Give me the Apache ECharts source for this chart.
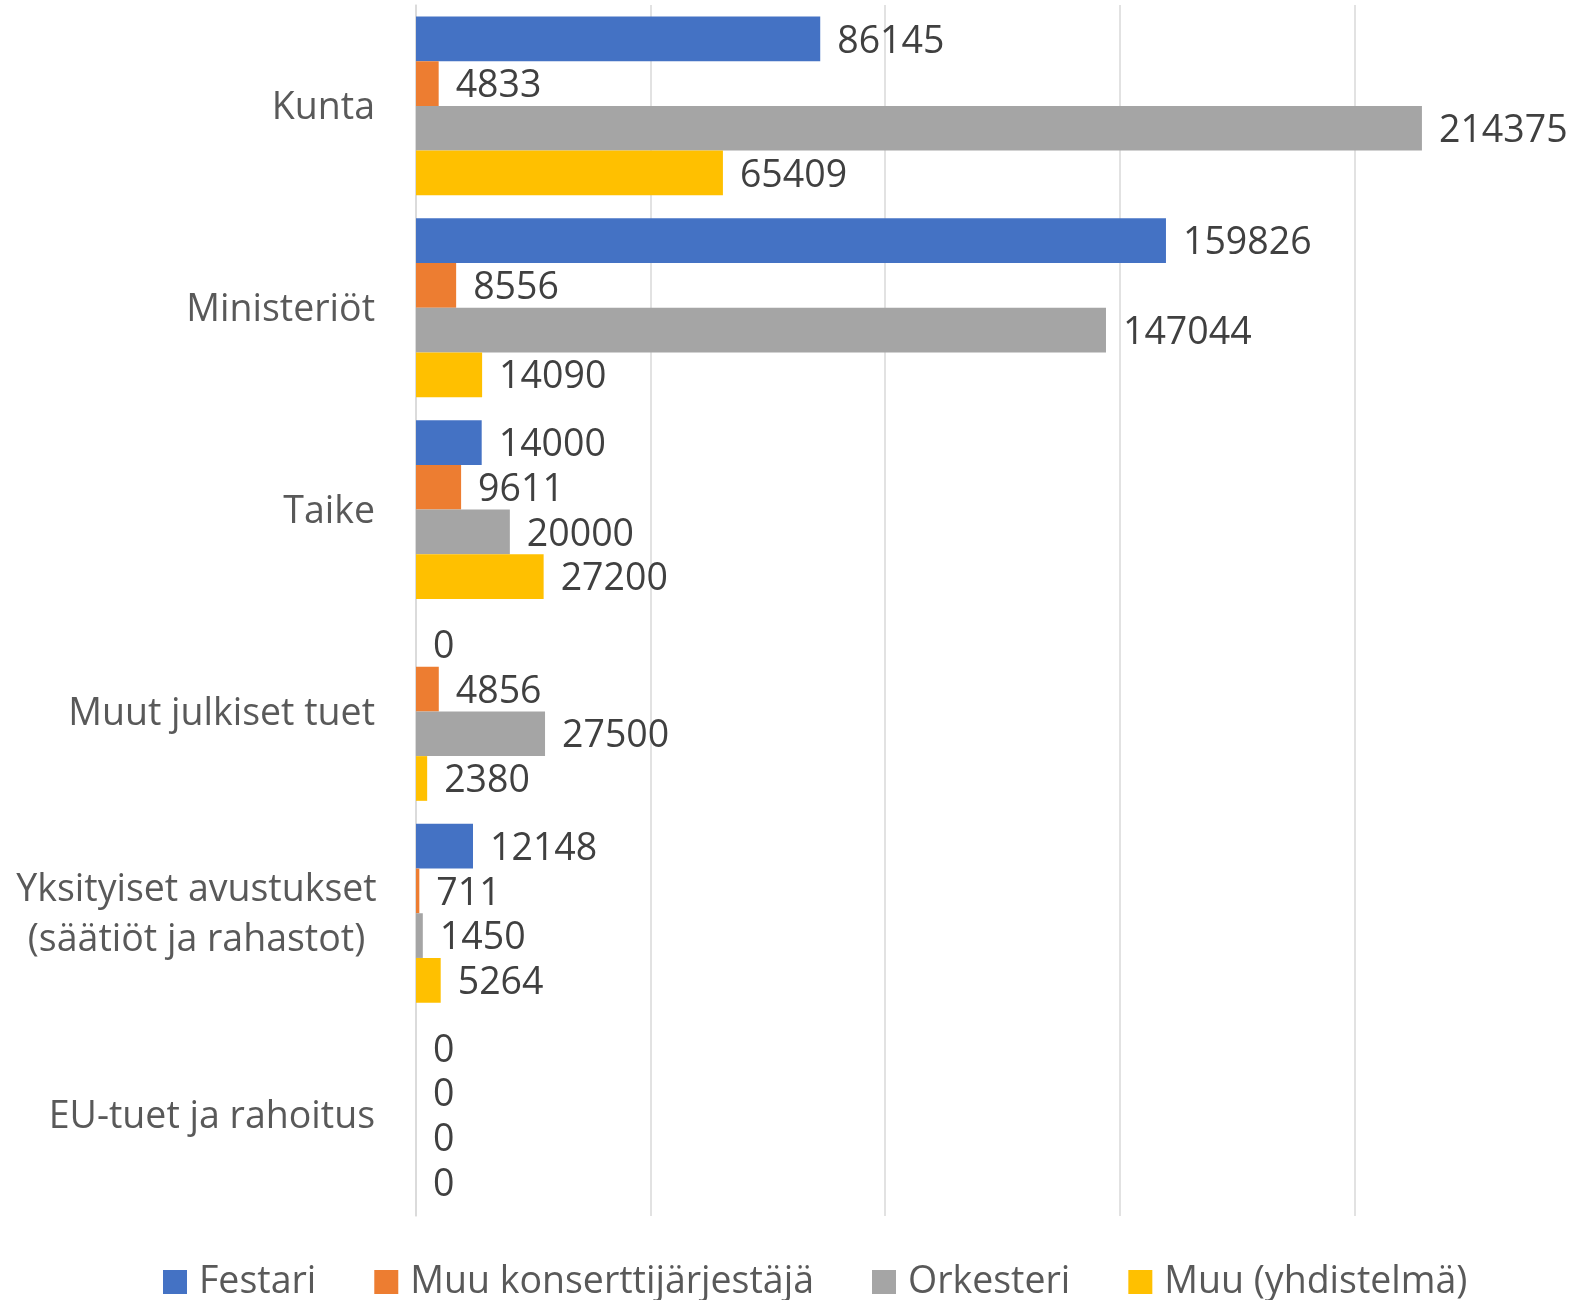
<!DOCTYPE html>
<html>
<head>
<meta charset="utf-8">
<script src="https://cdn.jsdelivr.net/npm/echarts@6/dist/echarts.min.js"></script>
<style>
  html, body { margin: 0; padding: 0; background: #fff; }
  #chart { width: 1583px; height: 1300px; }
</style>
</head>
<body>
<div id="chart"></div>
<script>
const categories = [
  "Kunta",
  "Ministeriöt",
  "Taike",
  "Muut julkiset tuet",
  "Yksityiset avustukset\n(säätiöt ja rahastot)",
  "EU-tuet ja rahoitus",
];
const festari = [86145, 159826, 14000, 0, 12148, 0];
const muuKonsertti = [4833, 8556, 9611, 4856, 711, 0];
const orkesteri = [214375, 147044, 20000, 27500, 1450, 0];
const muuYhdistelma = [65409, 14090, 27200, 2380, 5264, 0];
const seriesNames = ["Festari", "Muu konserttijärjestäjä", "Orkesteri", "Muu (yhdistelmä)"];
const colors = ["#4472C4", "#ED7D31", "#A5A5A5", "#FFC000"];

const FONT = "'Open Sans', 'Noto Sans', sans-serif";
const myChart = echarts.init(document.getElementById("chart"));

let series = [festari, muuKonsertti, orkesteri, muuYhdistelma].map((data, i) => ({
  name: seriesNames[i],
  type: "bar",
  data: data,
  color: colors[i],
  barGap: "0%",
  barCategoryGap: "11.4%",
  label: {
    show: true,
    position: "right",
    distance: 17,
    offset: [0, 3],
    color: "#404040",
    fontSize: 37.5,
    fontFamily: FONT,
  },
}));

let option = {
  animation: false,
  textStyle: { fontFamily: FONT },
  grid: {
    left: 416,
    right: 0,
    top: 5,
    bottom: 84,
  },
  legend: {
    top: 1261,
    left: 163,
    padding: 0,
    itemGap: 58,
    itemWidth: 24,
    itemHeight: 24,
    icon: "rect",
    textStyle: {
      color: "#595959",
      fontSize: 37.5,
      lineHeight: 38,
      padding: [4, 0, 0, 7],
      fontFamily: FONT,
    },
    data: seriesNames,
  },
  xAxis: {
    type: "value",
    min: 0,
    max: 248700,
    interval: 50000,
    axisLabel: { show: false },
    axisLine: { show: false },
    axisTick: { show: false },
    splitLine: {
      show: true,
      showMaxLine: false,
      lineStyle: { color: "#D9D9D9", width: 1.5 },
    },
  },
  yAxis: {
    type: "category",
    data: categories,
    inverse: true,
    axisLine: { show: true, lineStyle: { color: "#D9D9D9", width: 1.5 } },
    axisTick: { show: false },
    axisLabel: {
      margin: 41,
      color: "#595959",
      fontSize: 37.5,
      fontFamily: FONT,
      padding: [5, 0, 0, 0],
      formatter: (val) => {
        if (val.indexOf("\n") < 0) return val;
        return val
          .split("\n")
          .map((line) => `{c|${line}}`)
          .join("\n");
      },
      rich: {
        c: {
          width: 357,
          align: "center",
          color: "#595959",
          fontSize: 37.5,
          lineHeight: 50,
          fontFamily: FONT,
        },
      },
    },
  },
  series,
};
myChart.setOption(option);
</script>
</body>
</html>
